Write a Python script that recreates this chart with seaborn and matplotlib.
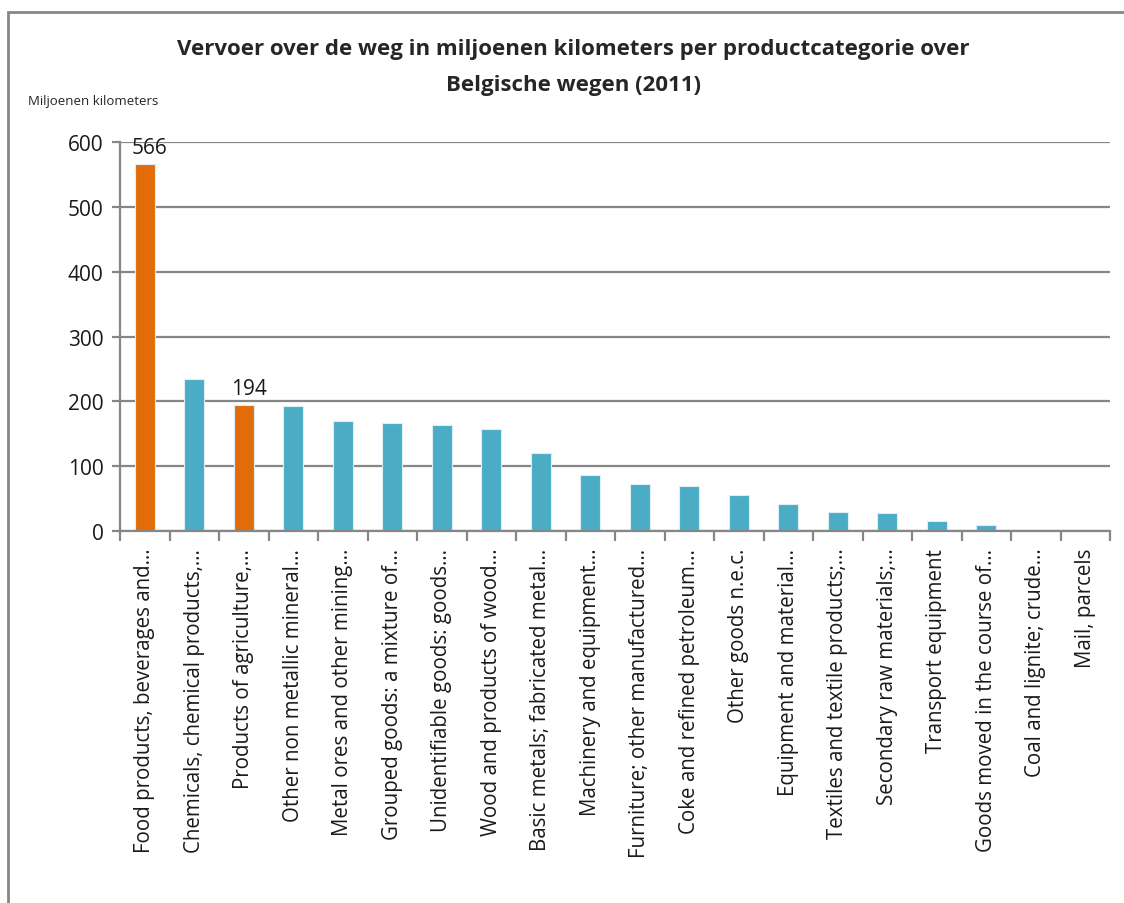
import matplotlib
matplotlib.use("Agg")
import matplotlib.pyplot as plt
import seaborn as sns
import pandas as pd
from matplotlib.patches import Rectangle

# data
categories = [
    "Food products, beverages and\u2026",
    "Chemicals, chemical products,\u2026",
    "Products of agriculture,\u2026",
    "Other non metallic mineral\u2026",
    "Metal ores and other mining\u2026",
    "Grouped goods: a mixture of\u2026",
    "Unidentifiable goods: goods\u2026",
    "Wood and products of wood\u2026",
    "Basic metals; fabricated metal\u2026",
    "Machinery and equipment\u2026",
    "Furniture; other manufactured\u2026",
    "Coke and refined petroleum\u2026",
    "Other goods n.e.c.",
    "Equipment and material\u2026",
    "Textiles and textile products;\u2026",
    "Secondary raw materials;\u2026",
    "Transport equipment",
    "Goods moved in the course of\u2026",
    "Coal and lignite; crude\u2026",
    "Mail, parcels",
]
values = [566, 235, 194, 193, 170, 167, 163, 158, 121, 87,
          73, 69, 55, 41, 29, 27, 15, 9, 0.5, 0.2]
highlight = [True, False, True] + [False] * 17
labelled = {0: "566", 2: "194"}

df = pd.DataFrame({"cat": categories, "val": values,
                   "grp": ["hi" if h else "lo" for h in highlight]})

sns.set_style("white")
plt.rcParams["font.family"] = ["Open Sans", "DejaVu Sans"]

fig = plt.figure(figsize=(11.24, 9.04), dpi=100)
ax = fig.add_axes([0.1068, 0.4115, 0.8808, 0.4303])

sns.barplot(data=df, x="cat", y="val", hue="grp",
            palette={"hi": "#E36C0A", "lo": "#4BACC6"}, saturation=1,
            dodge=False, legend=False, width=0.4,
            edgecolor="#DDEFF4", linewidth=0.8, ax=ax)

ax.set_ylim(0, 600)
ax.set_xlim(-0.5, len(categories) - 0.5)
ax.set_yticks(range(0, 601, 100))
ax.yaxis.grid(True, color="#868686", linewidth=1.6)
ax.set_axisbelow(True)
for s in ["top", "right"]:
    ax.spines[s].set_visible(False)
for s in ["left", "bottom"]:
    ax.spines[s].set_color("#868686")
    ax.spines[s].set_linewidth(1.6)

ax.tick_params(axis="y", left=True, length=6, width=1.6, color="#868686",
               labelsize=15, pad=6, labelcolor="#1a1a1a")
ax.set_xticks(range(len(categories)))
ax.set_xticklabels(categories, rotation=90, fontsize=14.8, color="#1a1a1a")
ax.tick_params(axis="x", length=0, pad=12)
# category separator ticks
ax.set_xticks([i - 0.5 for i in range(len(categories) + 1)], minor=True)
ax.tick_params(axis="x", which="minor", bottom=True, length=7, width=1.6,
               color="#868686")
ax.set_xlabel("")
ax.set_ylabel("")

for i, txt in labelled.items():
    ax.text(i + 0.1, values[i] + 10, txt, ha="center", va="bottom",
            fontsize=15, color="#1a1a1a")

fig.text(0.51, 0.945, "Vervoer over de weg in miljoenen kilometers per productcategorie over",
         ha="center", va="center", fontsize=16, fontweight="bold")
fig.text(0.51, 0.905, "Belgische wegen (2011)",
         ha="center", va="center", fontsize=16, fontweight="bold")
fig.text(0.025, 0.888, "Miljoenen kilometers", ha="left", va="center",
         fontsize=9.5)

# outer chart frame
fig.patches.append(Rectangle((8 / 1124, -0.1), 1.2, 1.1 - 13 / 904,
                             transform=fig.transFigure, fill=False,
                             edgecolor="#868686", linewidth=2))

fig.savefig("out.png", dpi=100)
